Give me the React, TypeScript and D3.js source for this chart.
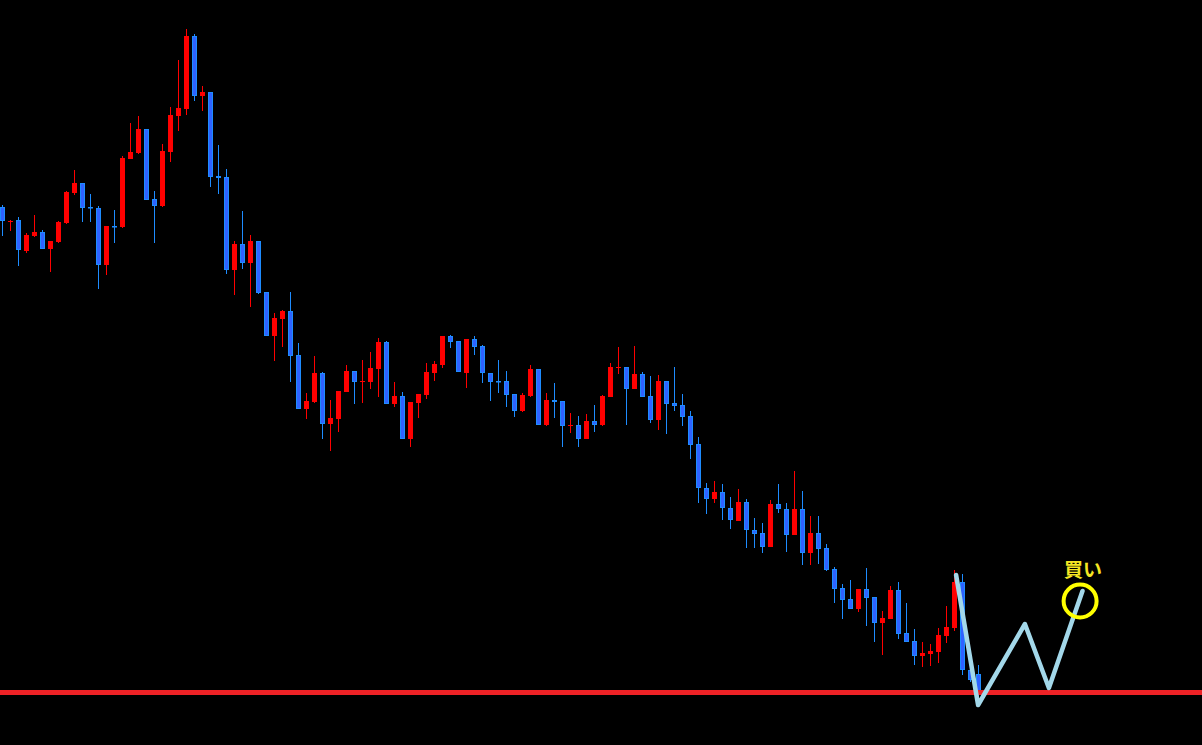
import React from "react";
import * as d3 from "d3";

// OHLC price data (points), one entry per candle, left to right
const opens = [793,778.5,780,749,764,768,751,758,777,807,817,793,792,735,774,773,841,847,871,801,794,848,884,891,964,904,908,824,823,730,756,737,759,708,664,681,689,645,591,598,627,576,581,608,629,618,618,631,658,596,604,561,597,605,627,635,664,659,627,661,654,627,619,619,606,589,604,631,575,600,599,574,575,561,579,575,603,632,633,611,626,604,580,619,597,595,584,556,512,501,508,492,479,498,470,467,453,496,491,465,491,447,467,452,431,412,401,391,411,403,377,381,410,367,359,344,346,348,364,372,418,330,326];
const highs = [795,780,783,767,785,770,759,779,809,830,817,806,794,774,790,844,877,884,871,809,856,893,940,971,966,914,908,855,831,759,789,765,759,708,687,690,708,657,607,644,628,600,609,635,629,640,648,662,659,618,608,598,606,637,639,664,665,659,661,664,655,627,640,629,606,607,635,631,607,617,599,587,584,586,595,605,637,653,633,654,628,624,625,619,633,606,589,563,517,519,516,503,511,501,482,477,500,516,497,529,509,484,484,456,433,416,420,411,432,403,389,414,418,397,371,358,356,372,394,430,426,332,335];
const lows = [764,769,734,747,763,751,728,757,776,805,778,778,711,725,757,772,841,846,800,757,793,838,869,885,899,889,813,806,726,705,731,693,706,664,639,653,618,591,581,597,561,549,568,608,596,597,611,603,596,593,561,553,582,601,619,632,652,628,612,645,617,599,607,593,583,588,603,575,574,582,553,567,553,561,568,574,603,626,575,611,603,577,570,566,589,574,541,497,486,497,480,471,479,452,452,447,453,487,448,465,435,435,436,429,397,381,391,388,374,358,345,381,361,358,335,333,334,337,357,369,325,318,303];
const closes = [779,779.5,750,765,768,751,759,778,808,817,792,792,735,774,773,842,848,871,800,794,849,885,892,964,904,908,823,822.5,730,756,737,759,707,664,682,689,644,591,599,627,576,582,609,629,618,619,632,658,596,604,561,598,606,628,636,664,658,628,661,653,627,618,618,605,589,605,631,575,600,598.5,574,575,561,579,575,604,633,633,611,626,603,580,619,596,594,583,555,512,501,508,492,480,498,470,466,453,496,491,465,491,447,467,451,430,411,400,391,411,402,377,382,410,366,358,344,347,349,365,373,418,330,320,308];

// Support line level
const supportLevel = 307.5;

// Hand-drawn W pattern (candle index units, price)
const wIndex = [119.2, 121.95, 127.8, 130.8, 135.0];
const wPrice = [425, 295, 376, 312, 409];

// Buy marker
const buyIndex = 134.7;
const buyPrice = 399;
const buyLabel = "買い";
const buyLabelPrice = 423;

const W = 1202;
const H = 745;

export default function App() {
  const x = d3.scaleLinear().domain([0, 150]).range([2.5, 2.5 + 8 * 150]);
  const y = d3.scaleLinear().domain([1000, 255]).range([0, H]);

  const BLUE_EDGE = "#1e8cff";
  const BLUE_FILL = "#2f62ff";
  const RED = "#ff0000";

  const candles = opens.map((o, i) => {
    const c = closes[i];
    const up = c > o;
    const cx = Math.round(x(i) - 0.5) + 0.5;
    const top = Math.round(y(Math.max(o, c)));
    const bot = Math.round(y(Math.min(o, c)));
    const hTop = Math.round(y(highs[i]));
    const hBot = Math.round(y(lows[i]));
    const bh = Math.max(1, bot - top);
    const wickColor = up ? RED : BLUE_EDGE;
    return (
      <g key={i}>
        <line x1={cx} x2={cx} y1={hTop} y2={hBot} stroke={wickColor} strokeWidth={1} />
        {up ? (
          <rect x={cx - 2.5} y={top} width={5} height={bh} fill={RED} />
        ) : bh <= 2 ? (
          <rect x={cx - 2.5} y={top} width={5} height={Math.max(bh, 1.5)} fill={BLUE_EDGE} />
        ) : (
          <rect
            x={cx - 2}
            y={top + 0.5}
            width={4}
            height={bh - 1}
            fill={BLUE_FILL}
            stroke={BLUE_EDGE}
            strokeWidth={1}
          />
        )}
      </g>
    );
  });

  const wLine = d3
    .line<number>()
    .x((_, i) => x(wIndex[i]))
    .y((p) => y(p));

  return (
    <svg
      width={W}
      height={H}
      style={{ position: "fixed", left: 0, top: 0, background: "#000", display: "block" }}
    >
      <rect x={0} y={0} width={W} height={H} fill="#000" />
      {candles}
      <line x1={0} x2={W} y1={y(supportLevel)} y2={y(supportLevel)} stroke="#ee2226" strokeWidth={5} />
      <path
        d={wLine(wPrice) || ""}
        fill="none"
        stroke="#a3d8ea"
        strokeWidth={4.5}
        strokeLinejoin="round"
        strokeLinecap="round"
      />
      <circle cx={x(buyIndex)} cy={y(buyPrice)} r={16.5} fill="none" stroke="#ffff00" strokeWidth={4} />
      <text
        x={x(buyIndex) + 3}
        y={y(buyLabelPrice)}
        textAnchor="middle"
        fill="#f5e623"
        fontSize={19}
        fontWeight="bold"
        fontFamily="'Noto Sans CJK JP', sans-serif"
      >
        {buyLabel}
      </text>
    </svg>
  );
}
